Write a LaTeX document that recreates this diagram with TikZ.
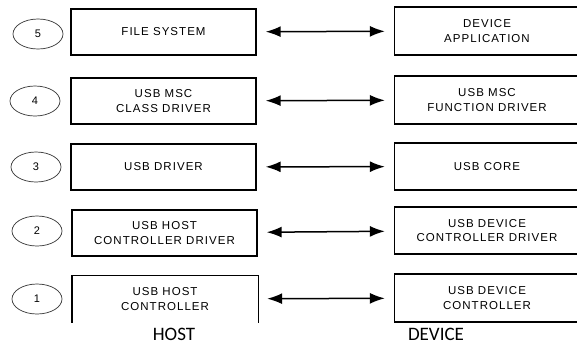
\documentclass[tikz,border=0pt]{standalone}
\usepackage{fontspec}
\usetikzlibrary{arrows.meta,shapes.geometric}
\newfontfamily\boxfnt[LetterSpace=9]{Liberation Sans}
\newfontfamily\lblfnt{Carlito}
\begin{document}
\begin{tikzpicture}[x=1pt,y=-1pt,
  lyr/.style={draw=black,line width=1.4pt,minimum width=185pt,minimum height=46pt,inner sep=0pt,
     align=center,font=\boxfnt\fontsize{11.5}{14.5}\selectfont},
  num/.style={draw=black!80,line width=0.7pt,ellipse,minimum width=50pt,minimum height=30pt,inner sep=0pt,
     font=\boxfnt\fontsize{11}{12}\selectfont},
  tip/.style={Latex[length=15pt,width=11pt]},
  link/.style={line width=1.5pt,{Latex[length=15pt,width=11pt]}-{Latex[length=15pt,width=11pt]},shorten <=9pt,shorten >=9pt},
  side/.style={font=\lblfnt\fontsize{19}{21}\selectfont,anchor=base}]
\useasboundingbox (0,0) rectangle (577,346);
\clip (0,0) rectangle (577,346);
% host stack
\node[lyr] (h5) at (163.5,32) {FILE SYSTEM};
\node[lyr] (h4) at (163.5,101) {USB MSC\\CLASS DRIVER};
\node[lyr] (h3) at (163.5,167) {USB DRIVER};
\node[lyr] (h2) at (164.5,233) {USB HOST\\CONTROLLER DRIVER};
\node[lyr,draw=none] (h1) at (165,299) {USB HOST\\CONTROLLER};
\draw[line width=1.4pt] (h1.south west) -- (h1.north west) -- (h1.north east) -- (h1.south east);
% device stack
\node[lyr,minimum height=48pt] (d5) at (487,31) {DEVICE\\APPLICATION};
\node[lyr,minimum height=48pt] (d4) at (487,100) {USB MSC\\FUNCTION DRIVER};
\node[lyr,minimum height=47pt] (d3) at (487,166.5) {USB CORE};
\node[lyr,minimum height=47pt] (d2) at (487,230.5) {USB DEVICE\\CONTROLLER DRIVER};
\node[lyr,minimum height=48pt] (d1) at (487,298) {USB DEVICE\\CONTROLLER};
% layer numbers
\node[num] (n5) at (38,34) {5};
\node[num] (n4) at (35,101) {4};
\node[num] (n3) at (36,167) {3};
\node[num] (n2) at (37,231) {2};
\node[num] (n1) at (37,299) {1};
% links
\draw[link] (h5) -- (d5);
\draw[link] (h4) -- (d4);
\draw[link] (h3) -- (d3);
\draw[link] (h2) -- (d2);
\draw[link] (h1) -- (d1);
% side labels
\node[side] (host) at (174,340) {HOST};
\node[side] (dev) at (436,340) {DEVICE};
\end{tikzpicture}
\end{document}
